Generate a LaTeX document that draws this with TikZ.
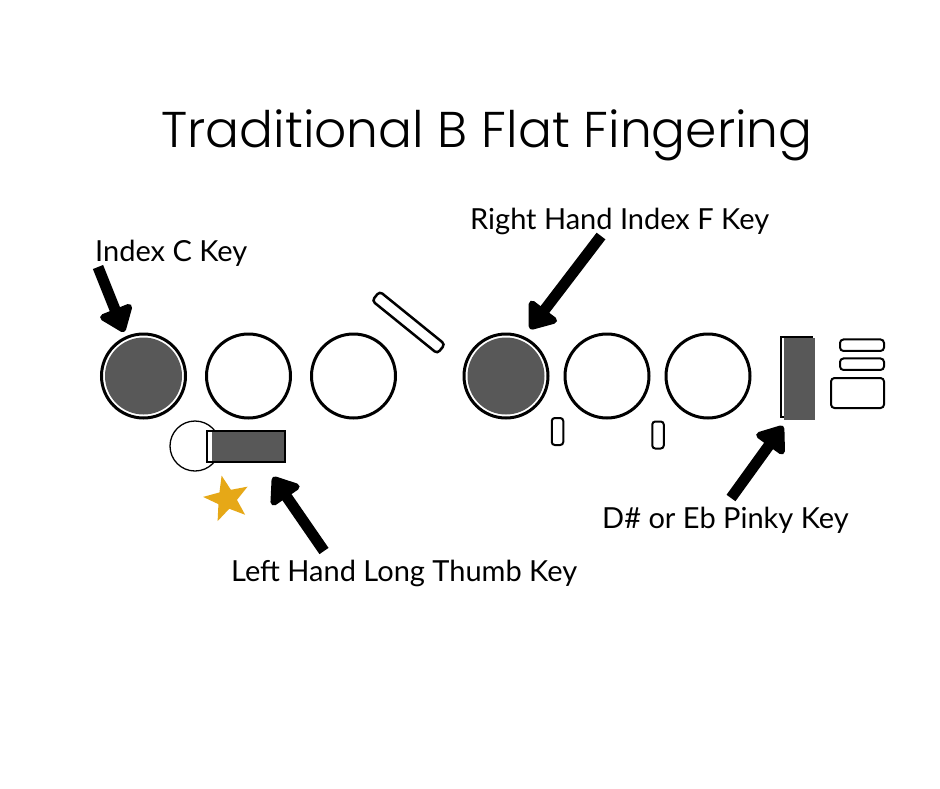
\documentclass[tikz,border=0pt]{standalone}
\usepackage{fontspec}
\setmainfont{Lato}
\newfontfamily\titlefont{Poppins Light}
\usetikzlibrary{arrows.meta,shapes.geometric}
\definecolor{keygray}{RGB}{88,88,88}
\definecolor{stargold}{RGB}{230,168,23}
\tikzset{
  ring/.style={circle,draw=black,line width=3pt,fill=white,minimum size=84pt,inner sep=0pt},
  pressed/.style={circle,fill=keygray,minimum size=77pt,inner sep=0pt},
  pill/.style={draw=black,line width=2pt,rounded corners=3.5pt,inner sep=0pt,fill=white},
  bigarrow/.style={line width=11pt,-{Triangle[width=39pt,length=27pt,round]},line join=round},
  lbl/.style={font=\fontsize{29}{34}\selectfont,anchor=base west,inner sep=0pt}
}
\begin{document}
\begin{tikzpicture}[x=1pt,y=-1pt]
\useasboundingbox (0,0) rectangle (940,788);
\fill[white] (0,0) rectangle (940,788);
% title
\node[font=\titlefont\fontsize{50.3}{56}\selectfont,anchor=base,inner sep=0pt] (title) at (487,147) {Traditional B Flat Fingering};
% left hand keys
\node[ring] (k1) at (143.5,376) {};
\node[pressed] (k1f) at (143.5,376) {};
\node[ring] (k2) at (248.5,376) {};
\node[ring] (k3) at (353.5,376) {};
\node[pill,rotate=-39,minimum width=84pt,minimum height=12pt,line width=2.5pt] (oct) at (408.5,322.5) {};
% thumb
\node[circle,draw=black,line width=1.3pt,minimum size=50pt,inner sep=0pt] (tc) at (195,446) {};
\fill[white] (207,431) rectangle (284.5,461.5);
\fill[keygray] (211.5,431) rectangle (284.5,461.5);
\draw[line width=2pt] (207,431) rectangle (284.5,461.5);
\coordinate (thumb) at (245.75,446.25);
\node[star,star points=5,star point ratio=2.4,minimum size=48pt,inner sep=0pt,fill=stargold,rotate=13] (star) at (227,499) {};
% right hand keys
\node[ring] (k4) at (506,376) {};
\node[pressed] (k4f) at (506,376) {};
\node[ring] (k5) at (607,376) {};
\node[ring] (k6) at (708,376) {};
\node[pill,minimum width=11.5pt,minimum height=27pt,rounded corners=3pt] (s1) at (557.5,431.5) {};
\node[pill,minimum width=11.5pt,minimum height=27pt,rounded corners=3pt] (s2) at (658,435) {};
% pinky
\draw[line width=2pt] (780.5,337) rectangle (812,416.5);
\fill[keygray] (784,338) rectangle (815,420);
\coordinate (pinky) at (799,378);
\node[pill,minimum width=44pt,minimum height=11.5pt] (r1) at (862,345.2) {};
\node[pill,minimum width=44pt,minimum height=11.5pt] (r2) at (862,364.2) {};
\node[pill,minimum width=53pt,minimum height=30pt] (r3) at (857.5,393) {};
% labels
\node[lbl] (l1) at (95,261) {Index C Key};
\node[lbl] (l2) at (470,229) {Right Hand Index F Key};
\node[lbl] (l3) at (231,581) {Left Hand Long Thumb Key};
\node[lbl] (l4) at (602,528) {D\# or Eb Pinky Key};
% arrows
\coordinate (a1s) at (98,267);   \coordinate (a1e) at (124,332);
\coordinate (a2s) at (601,236);  \coordinate (a2e) at (530,329);
\coordinate (a3s) at (324,551);  \coordinate (a3e) at (273,477);
\coordinate (a4s) at (731,498);  \coordinate (a4e) at (783,426);
\draw[bigarrow] (a1s) -- (a1e);
\draw[bigarrow] (a2s) -- (a2e);
\draw[bigarrow] (a3s) -- (a3e);
\draw[bigarrow] (a4s) -- (a4e);
\end{tikzpicture}
\end{document}
